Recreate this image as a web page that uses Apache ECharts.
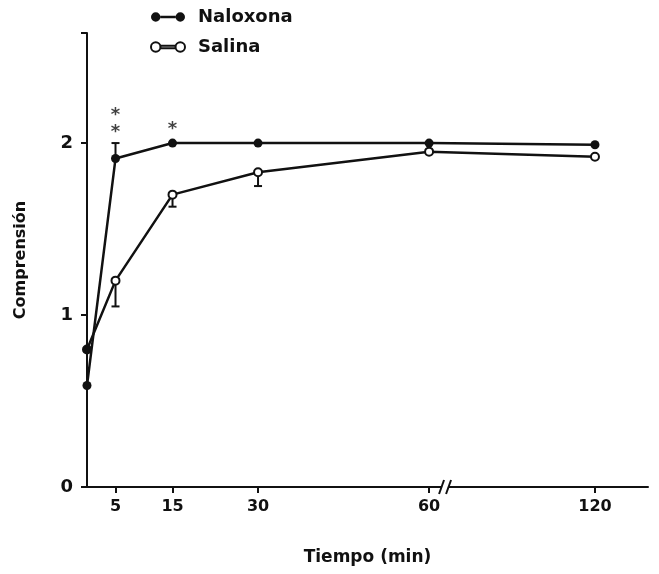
<!DOCTYPE html>
<html>
<head>
<meta charset="utf-8">
<script src="https://cdn.jsdelivr.net/npm/echarts@6/dist/echarts.min.js"></script>
<style>
    html, body { margin: 0; padding: 0; background: #fff; }
    #cn { width: 659px; height: 574px; }
</style>
</head>
<body>
<div id="cn"></div>
<script>
'use strict';

// tiempo (min)
const tiempos = [0, 5, 15, 30, 60, 120];
const tickTiempos = [5, 15, 30, 60, 120];

// comprensión media
const naloxona = [0.59, 1.91, 2.0, 2.0, 2.0, 1.99];
const salina = [0.80, 1.20, 1.70, 1.83, 1.95, 1.92];

// error bars: [tiempo, media, extremo]
const errNaloxona = [[5, 1.91, 2.0]];
const errSalina = [[5, 1.20, 1.05], [15, 1.70, 1.63], [30, 1.83, 1.75]];

// asteriscos de significación
const estrellas = [[5, 2.16], [5, 2.06], [15, 2.08]];

// eje x con corte después de 60 min
const BREAK_AT = 62.8;
const X_MAX = 98.4;
const xPos = t => (t <= 60 ? t : 60 + (t - 60) * 29.1 / 60);

const INK = '#111';
const FONT = 'DejaVu Sans';

const errRender = (params, api) => {
    const x = api.value(0);
    const p1 = api.coord([x, api.value(1)]);
    const p2 = api.coord([x, api.value(2)]);
    return {
        type: 'group',
        children: [{
                type: 'line',
                shape: { x1: p1[0], y1: p1[1], x2: p2[0], y2: p2[1] },
                style: { stroke: INK, lineWidth: 2 }
            },
            {
                type: 'line',
                shape: { x1: p2[0] - 4, y1: p2[1], x2: p2[0] + 4, y2: p2[1] },
                style: { stroke: INK, lineWidth: 2 }
            }
        ]
    };
};

const iconPath = 'path://M0,5A5,5 0 1,0 10,5A5,5 0 1,0 0,5Z M10,3.6L26,3.6L26,6.4L10,6.4Z M26,5A5,5 0 1,0 36,5A5,5 0 1,0 26,5Z';

const chart = echarts.init(document.getElementById('cn'));

let option = {
    animation: false,
    backgroundColor: '#fff',
    textStyle: { fontFamily: FONT, color: INK },
    grid: { left: 87, right: 11, top: 33, bottom: 87 },
    legend: {
        orient: 'vertical',
        left: 145,
        top: 3,
        itemGap: 12,
        itemWidth: 34,
        itemHeight: 10,
        textStyle: { fontFamily: FONT, fontWeight: 'bold', fontSize: 18, color: INK, padding: [0, 0, 0, 8] },
        data: [{
                name: 'Naloxona',
                icon: iconPath,
                itemStyle: { color: INK, borderWidth: 0 }
            },
            {
                name: 'Salina',
                icon: iconPath,
                itemStyle: { color: '#fff', borderColor: INK, borderWidth: 2 }
            }
        ]
    },
    xAxis: {
        type: 'value',
        min: 0,
        max: X_MAX,
        name: 'Tiempo (min)',
        nameLocation: 'middle',
        nameGap: 62,
        nameTextStyle: { fontFamily: FONT, fontWeight: 'bold', fontSize: 17, color: INK },
        splitLine: { show: false },
        axisLine: { lineStyle: { color: INK, width: 2 } },
        axisTick: {
            customValues: tickTiempos.map(xPos),
            length: 6,
            lineStyle: { color: INK, width: 2 }
        },
        axisLabel: {
            customValues: tickTiempos.map(xPos),
            margin: 12,
            fontFamily: FONT,
            fontWeight: 'bold',
            fontSize: 16,
            color: INK,
            formatter: v => {
                const t = tickTiempos.find(k => Math.abs(xPos(k) - v) < 0.01);
                return t === undefined ? '' : String(t);
            }
        }
    },
    yAxis: {
        type: 'value',
        min: 0,
        max: 2.64,
        name: 'Comprensión',
        nameLocation: 'middle',
        nameGap: 58,
        nameTextStyle: { fontFamily: FONT, fontWeight: 'bold', fontSize: 16, color: INK },
        splitLine: { show: false },
        axisLine: { show: true, lineStyle: { color: INK, width: 2 } },
        axisTick: {
            show: true,
            customValues: [0, 1, 2, 2.64],
            length: 6,
            lineStyle: { color: INK, width: 2 }
        },
        axisLabel: {
            customValues: [0, 1, 2],
            margin: 14,
            fontFamily: FONT,
            fontWeight: 'bold',
            fontSize: 18,
            color: INK
        }
    },
    series: [{
            name: 'Naloxona',
            type: 'line',
            data: tiempos.map((t, i) => [xPos(t), naloxona[i]]),
            symbol: 'circle',
            symbolSize: 9,
            itemStyle: { color: INK },
            lineStyle: { color: INK, width: 2.5 },
            z: 4
        },
        {
            name: 'Salina',
            type: 'line',
            data: tiempos.map((t, i) => {
                const item = { value: [xPos(t), salina[i]] };
                if (t === 0) item.itemStyle = { color: INK };
                return item;
            }),
            symbol: 'circle',
            symbolSize: 8,
            itemStyle: { color: '#fff', borderColor: INK, borderWidth: 2 },
            lineStyle: { color: INK, width: 2.5 },
            z: 4
        },
        {
            name: 'errN',
            type: 'custom',
            renderItem: errRender,
            data: errNaloxona.map(d => [xPos(d[0]), d[1], d[2]]),
            z: 3
        },
        {
            name: 'errS',
            type: 'custom',
            renderItem: errRender,
            data: errSalina.map(d => [xPos(d[0]), d[1], d[2]]),
            z: 3
        },
        {
            name: 'sig',
            type: 'scatter',
            symbolSize: 0,
            data: estrellas.map(d => [xPos(d[0]), d[1]]),
            label: {
                show: true,
                position: 'inside',
                formatter: '*',
                fontFamily: FONT,
                fontWeight: 'bold',
                fontSize: 18,
                color: INK
            },
            silent: true
        }
    ]
};

chart.setOption(option);

// símbolo de corte del eje x
{
    const p = chart.convertToPixel({ gridIndex: 0 }, [BREAK_AT, 0]);
    chart.setOption({
        graphic: [{
                type: 'rect',
                shape: { x: p[0] - 3, y: p[1] - 3, width: 6, height: 6 },
                style: { fill: '#fff' },
                z: 10
            },
            {
                type: 'line',
                shape: { x1: p[0] - 6, y1: p[1] + 7, x2: p[0] - 1, y2: p[1] - 7 },
                style: { stroke: INK, lineWidth: 2 },
                z: 11
            },
            {
                type: 'line',
                shape: { x1: p[0] + 1, y1: p[1] + 7, x2: p[0] + 6, y2: p[1] - 7 },
                style: { stroke: INK, lineWidth: 2 },
                z: 11
            }
        ]
    });
}
</script>
</body>
</html>
